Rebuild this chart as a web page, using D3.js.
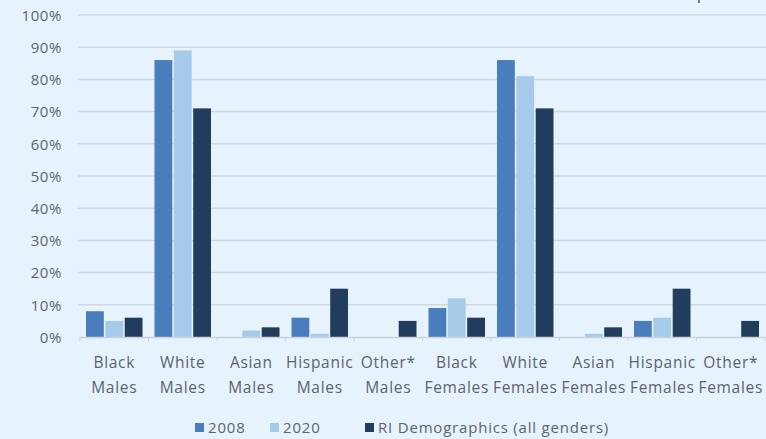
<!DOCTYPE html>
<html>
<head>
<meta charset="utf-8">
<script src="https://cdn.jsdelivr.net/npm/d3@7"></script>
<style>
  html, body { margin: 0; padding: 0; background: #e7f3fc; }
  svg { display: block; }
  text { font-family: "Open Sans", sans-serif; fill: #5d636b; }
</style>
</head>
<body>
<svg id="chart" width="766" height="439"></svg>
<script>
// Demographic groups (two-line labels)
const categories = [
  ["Black", "Males"], ["White", "Males"], ["Asian", "Males"], ["Hispanic", "Males"], ["Other*", "Males"],
  ["Black", "Females"], ["White", "Females"], ["Asian", "Females"], ["Hispanic", "Females"], ["Other*", "Females"]
];
const seriesNames = ["2008", "2020", "RI Demographics (all genders)"];
// Shares in percent for each group
const values2008 = [8, 86, 0, 6, 0, 9, 86, 0, 5, 0];
const values2020 = [5, 89, 2, 1, 0, 12, 81, 1, 6, 0];
const valuesRI   = [6, 71, 3, 15, 5, 6, 71, 3, 15, 5];
const yTicks = [0, 10, 20, 30, 40, 50, 60, 70, 80, 90, 100];
const colors = ["#4a7dbc", "#a6cbea", "#213c5c"];

const series = [values2008, values2020, valuesRI];
const svg = d3.select("#chart");

const x0 = d3.scaleBand().domain(d3.range(categories.length)).range([80, 765]);
const x1 = d3.scaleBand().domain(d3.range(series.length)).range([6, 62.5]).paddingInner(0.08);
const y = d3.scaleLinear().domain([0, 100]).range([337, 15]);

// Horizontal gridlines
svg.append("g")
  .selectAll("line")
  .data(yTicks.filter(t => t > 0))
  .join("line")
  .attr("x1", 78).attr("x2", 766)
  .attr("y1", d => y(d)).attr("y2", d => y(d))
  .attr("stroke", "#cfd9e1").attr("stroke-width", 1.5);

// Y axis labels
const yAxis = d3.axisLeft(y).tickValues(yTicks).tickFormat(d => d + "%").tickSize(0).tickPadding(0);
const yg = svg.append("g").attr("transform", "translate(62,0)").call(yAxis);
yg.select(".domain").remove();
yg.selectAll("text")
  .style("font-family", "'Open Sans', sans-serif")
  .style("font-size", "15px")
  .style("letter-spacing", "0.6px")
  .attr("fill", "#5d636b")
  .attr("dy", "0.35em");

// Bars
const groups = svg.append("g")
  .selectAll("g")
  .data(categories.map((c, i) => i))
  .join("g")
  .attr("transform", i => `translate(${x0(i)},0)`);

groups.selectAll("rect")
  .data(i => series.map((s, k) => ({ k, v: s[i] })))
  .join("rect")
  .attr("x", d => x1(d.k))
  .attr("width", x1.bandwidth())
  .attr("y", d => y(d.v))
  .attr("height", d => y(0) - y(d.v))
  .attr("fill", d => colors[d.k]);

// Category axis
const xAxis = d3.axisBottom(x0).tickSize(0).tickFormat("");
const xg = svg.append("g").attr("transform", `translate(0,${y(0)})`).call(xAxis);
xg.select(".domain").attr("stroke", "#c9d2da").attr("stroke-width", 1.5);
xg.selectAll(".tick").remove();

// Small tick marks at category boundaries
svg.append("g")
  .selectAll("line")
  .data(d3.range(categories.length + 1))
  .join("line")
  .attr("x1", i => 80 + i * x0.step()).attr("x2", i => 80 + i * x0.step())
  .attr("y1", y(0)).attr("y2", y(0) + 4)
  .attr("stroke", "#c9d2da");

// Category labels
const labels = svg.append("g")
  .selectAll("text")
  .data(categories.map((c, i) => ({ c, i })))
  .join("text")
  .attr("text-anchor", "middle")
  .style("font-size", "15.5px")
  .style("letter-spacing", "0.7px")
  .attr("transform", d => `translate(${x0(d.i) + x0.bandwidth() / 2},0)`);
labels.append("tspan").attr("x", 0).attr("y", 368).text(d => d.c[0]);
labels.append("tspan").attr("x", 0).attr("y", 393).text(d => d.c[1]);

// Legend
const legendX = [195, 270, 365];
const legend = svg.append("g")
  .selectAll("g")
  .data(seriesNames.map((n, k) => ({ n, k })))
  .join("g")
  .attr("transform", d => `translate(${legendX[d.k]},0)`);
legend.append("rect").attr("x", 0).attr("y", 423).attr("width", 9).attr("height", 9)
  .attr("fill", d => colors[d.k]);
legend.append("text").attr("x", 13).attr("y", 433)
  .style("font-size", "15px").style("letter-spacing", "0.8px")
  .text(d => d.n);

// Short mark at the top edge
svg.append("line").attr("x1", 699).attr("x2", 699).attr("y1", 0).attr("y2", 3)
  .attr("stroke", "#4a4f57").attr("stroke-width", 1.5);
</script>
</body>
</html>
